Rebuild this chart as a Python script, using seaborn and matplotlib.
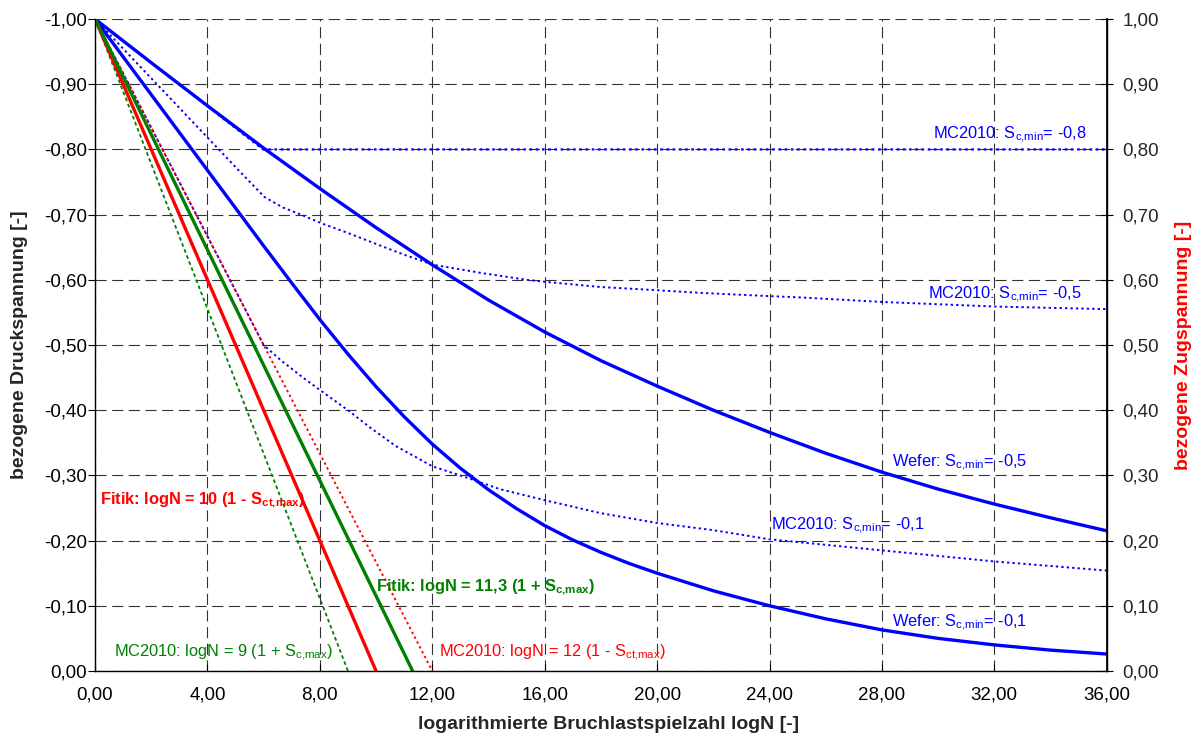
import matplotlib
matplotlib.use("Agg")
import matplotlib.pyplot as plt
import seaborn as sns
from matplotlib.ticker import MultipleLocator, FuncFormatter

# ---- data (logN on x, stress ratio magnitude on y) ----
fitik_ct_x = [0.0, 10.0]
fitik_ct_y = [1.0, 0.0]
fitik_c_x = [0.0, 11.3]
fitik_c_y = [1.0, 0.0]
mc_c_x = [0.0, 9.0]
mc_c_y = [1.0, 0.0]
mc_ct_x = [0.0, 12.0]
mc_ct_y = [1.0, 0.0]

mc_min08_x = [0.0, 5.98, 36.0]
mc_min08_y = [1.0, 0.80, 0.80]

mc_min05_x = [0.0, 5.02, 6.03, 6.68, 7.27, 8.10, 9.05, 10.12, 11.03, 12.04, 13.82,
              15.36, 16.0, 17.97, 20.02, 21.53, 24.0, 25.1, 28.03, 32.03, 36.0]
mc_min05_y = [1.0, 0.772, 0.727, 0.711, 0.701, 0.686, 0.671, 0.653, 0.638, 0.623, 0.610,
              0.600, 0.597, 0.589, 0.584, 0.580, 0.575, 0.573, 0.566, 0.559, 0.555]

mc_min01_x = [0.0, 6.0, 6.6, 7.4, 8.0, 9.0, 9.8, 10.7, 11.5, 12.0, 13.2, 14.4,
              16.0, 18.0, 20.0, 22.0, 24.0, 28.0, 32.0, 36.0]
mc_min01_y = [1.0, 0.50, 0.477, 0.450, 0.431, 0.400, 0.373, 0.345, 0.326, 0.314, 0.297, 0.279,
              0.262, 0.242, 0.227, 0.216, 0.202, 0.185, 0.168, 0.154]

wefer05_x = [0, 2, 4, 6, 8, 10, 12, 14, 16, 18, 20, 22, 24, 26, 28, 30, 32, 34, 36]
wefer05_y = [1.0, 0.933, 0.867, 0.802, 0.740, 0.680, 0.623, 0.569, 0.520, 0.476, 0.437,
             0.400, 0.366, 0.334, 0.305, 0.279, 0.256, 0.235, 0.215]

wefer01_x = [0, 1, 2, 3, 4, 5, 6, 7, 8, 9, 10, 11, 12, 13, 14, 15, 16, 17, 18, 19, 20,
             22, 24, 26, 28, 30, 32, 34, 36]
wefer01_y = [1.0, 0.942, 0.884, 0.826, 0.768, 0.710, 0.652, 0.595, 0.539, 0.486, 0.436,
             0.390, 0.348, 0.311, 0.278, 0.249, 0.223, 0.201, 0.182, 0.165, 0.150,
             0.123, 0.100, 0.080, 0.063, 0.050, 0.040, 0.032, 0.026]

BLUE = "#0000FF"
RED = "#FF0000"
GREEN = "#008000"

sns.set_theme(style="white")
plt.rcParams["font.family"] = ["Liberation Sans", "DejaVu Sans"]
plt.rcParams["mathtext.default"] = "regular"

fig = plt.figure(figsize=(11.97, 7.35), dpi=100)
ax = fig.add_axes([0.0794, 0.0871, 0.9246 - 0.0794, 0.9741 - 0.0871])

dot = (0, (1.2, 1.6))
# dotted model curves
sns.lineplot(x=mc_c_x, y=mc_c_y, ax=ax, color=GREEN, linewidth=1.3, linestyle=(0, (2.0, 1.6)),
             sort=False, estimator=None)
sns.lineplot(x=mc_min01_x, y=mc_min01_y, ax=ax, color=BLUE, linewidth=1.4, linestyle=dot,
             sort=False, estimator=None)
sns.lineplot(x=mc_ct_x, y=mc_ct_y, ax=ax, color=RED, linewidth=1.4, linestyle=(0.8, (1.2, 1.6)),
             sort=False, estimator=None)
sns.lineplot(x=mc_min05_x, y=mc_min05_y, ax=ax, color=BLUE, linewidth=1.4, linestyle=dot,
             sort=False, estimator=None)
sns.lineplot(x=mc_min08_x, y=mc_min08_y, ax=ax, color=BLUE, linewidth=1.6, linestyle=dot,
             sort=False, estimator=None)

# solid curves
sns.lineplot(x=wefer05_x, y=wefer05_y, ax=ax, color=BLUE, linewidth=2.4, sort=False, estimator=None)
sns.lineplot(x=wefer01_x, y=wefer01_y, ax=ax, color=BLUE, linewidth=2.4, sort=False, estimator=None)
sns.lineplot(x=fitik_ct_x, y=fitik_ct_y, ax=ax, color=RED, linewidth=2.4, sort=False, estimator=None)
sns.lineplot(x=fitik_c_x, y=fitik_c_y, ax=ax, color=GREEN, linewidth=2.4, sort=False, estimator=None)

ax.set_xlim(0, 36)
ax.set_ylim(0, 1.0)
ax.xaxis.set_major_locator(MultipleLocator(4))
ax.yaxis.set_major_locator(MultipleLocator(0.1))


def comma(v):
    return f"{v:.2f}".replace(".", ",")


ax.xaxis.set_major_formatter(FuncFormatter(lambda v, p: comma(v)))
ax.yaxis.set_major_formatter(FuncFormatter(lambda v, p: "0,00" if abs(v) < 1e-9 else comma(-v)))

ax.grid(True, color="#333333", linewidth=0.8, linestyle=(0, (10, 5)))
ax.spines["top"].set_visible(False)
for s in ["left", "bottom", "right"]:
    ax.spines[s].set_color("black")
    ax.spines[s].set_linewidth(1.0)

ax.tick_params(axis="y", direction="out", length=5, width=0.8, color="black",
               labelsize=13.5, pad=1, labelcolor="black", left=True)
ax.tick_params(axis="x", direction="in", length=5, width=0.8, color="black",
               labelsize=13.5, pad=11, labelcolor="black", bottom=True)

ax2 = ax.twinx()
ax2.set_ylim(0, 1.0)
ax2.yaxis.set_major_locator(MultipleLocator(0.1))
ax2.yaxis.set_major_formatter(FuncFormatter(lambda v, p: comma(v)))
ax2.tick_params(axis="y", direction="inout", length=9, width=0.8, color="black",
                labelsize=13.5, pad=7, right=True)
for s in ["top", "left", "bottom"]:
    ax2.spines[s].set_visible(False)
ax2.spines["right"].set_color("black")
ax2.grid(False)

ax.set_xlabel("logarithmierte Bruchlastspielzahl logN [-]", fontsize=14, fontweight="bold",
              labelpad=9)
ax.xaxis.label.set_x(0.508)
ax.set_ylabel("bezogene Druckspannung [-]", fontsize=14, fontweight="bold", labelpad=11)
ax2.set_ylabel("bezogene Zugspannung [-]", fontsize=14, fontweight="bold", color=RED,
               labelpad=11)

fs = 11.8
sub_cmin = "S$_{c{,}min}$"
sub_cmax = "S$_{c{,}max}$"
sub_ctmax = "S$_{ct{,}max}$"
ax.text(35.29, 0.816, f"MC2010: {sub_cmin}= -0,8", color=BLUE, fontsize=fs, ha="right", va="baseline")
ax.text(35.09, 0.571, f"MC2010: {sub_cmin}= -0,5", color=BLUE, fontsize=fs, ha="right", va="baseline")
ax.text(28.35, 0.313, f"Wefer: {sub_cmin}= -0,5", color=BLUE, fontsize=fs, ha="left", va="baseline")
ax.text(24.05, 0.216, f"MC2010: {sub_cmin}= -0,1", color=BLUE, fontsize=fs, ha="left", va="baseline")
ax.text(28.35, 0.068, f"Wefer: {sub_cmin}= -0,1", color=BLUE, fontsize=fs, ha="left", va="baseline")
ax.text(0.18, 0.257, f"Fitik: logN = 10 (1 - {sub_ctmax})", color=RED, fontsize=fs,
        fontweight="bold", ha="left", va="baseline")
ax.text(0.68, 0.022, f"MC2010: logN = 9 (1 + {sub_cmax})", color=GREEN, fontsize=fs,
        ha="left", va="baseline")
ax.text(10.0, 0.123, f"Fitik: logN = 11,3 (1 + {sub_cmax})", color=GREEN, fontsize=fs,
        fontweight="bold", ha="left", va="baseline")
ax.text(12.25, 0.022, f"MC2010: logN = 12 (1 - {sub_ctmax})", color=RED, fontsize=fs,
        ha="left", va="baseline")

fig.savefig("out.png", dpi=100)
